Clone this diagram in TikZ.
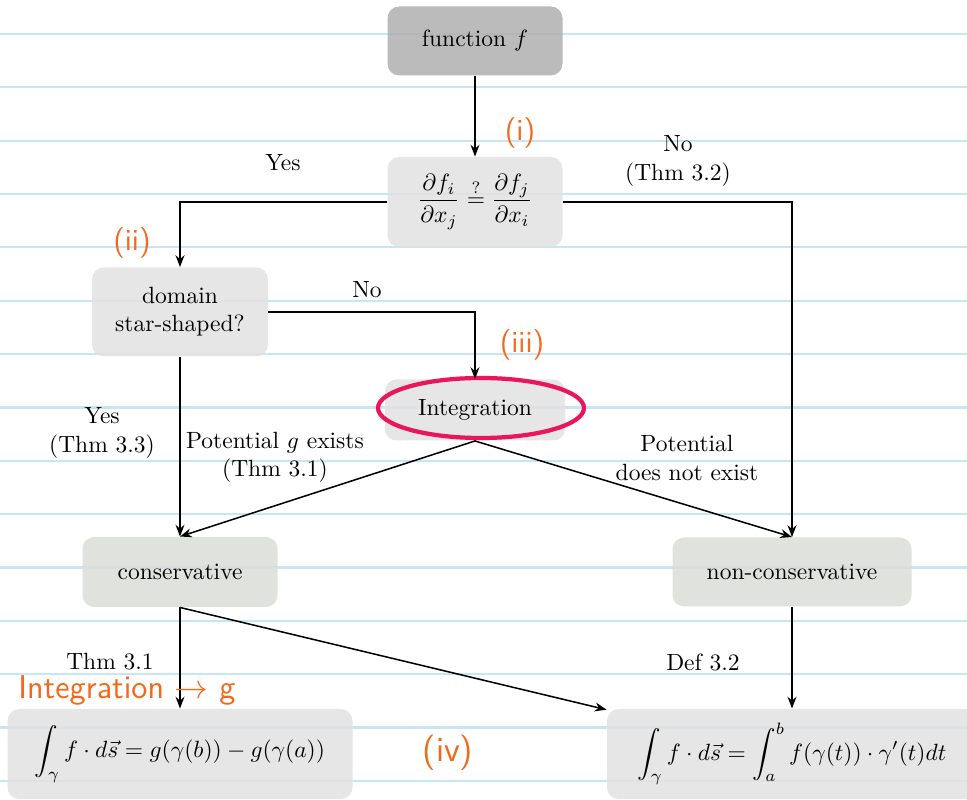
\documentclass[tikz,border=0pt]{standalone}
\usepackage{amsmath}
\usetikzlibrary{arrows.meta}
\definecolor{lineblue}{RGB}{200,229,246}
\definecolor{hand}{RGB}{242,104,28}
\definecolor{ringred}{RGB}{234,22,92}
\definecolor{darkbox}{RGB}{176,176,176}
\definecolor{lightbox}{RGB}{226,226,226}
\definecolor{greenbox}{RGB}{219,221,217}
\tikzset{
  box/.style={rectangle, rounded corners=5pt, fill=lightbox, fill opacity=0.85, text opacity=1, align=center, inner sep=0pt},
  darkfill/.style={fill=darkbox},
  greenfill/.style={fill=greenbox},
  sz/.style 2 args={minimum width=#1*0.4255pt, minimum height=#2*0.4255pt},
  conn/.style={-{Stealth[length=5pt,width=3.8pt]}, line width=0.65pt},
  lbl/.style={align=center, inner sep=0pt},
  handtext/.style={text=hand, inner sep=0pt, font=\sffamily\fontsize{13}{15}\selectfont},
  bgline/.style={draw=lineblue, line width=0.9pt}
}
\begin{document}
\begin{tikzpicture}[x=0.4255pt, y=-0.4255pt]
\useasboundingbox (0,0) rectangle (967,800);
\fill[white] (0,0) rectangle (967,800);
\foreach \k in {0,...,14} {
  \draw[bgline] (0,{34+53.35*\k}) -- (967,{34+53.35*\k});
}
% nodes
\node[box, darkfill, sz={175}{69}] (f) at (475,41) {function $f$};
\node[box, sz={175}{90}] (q) at (475,202) {$\dfrac{\partial f_i}{\partial x_j} \stackrel{?}{=} \dfrac{\partial f_j}{\partial x_i}$};
\node[box, sz={176}{89}] (d) at (180,312) {domain\\star-shaped?};
\node[box, sz={180}{61}] (int) at (475,410) {Integration};
\node[box, greenfill, sz={195}{70}] (c) at (180,572) {conservative};
\node[box, greenfill, sz={239}{69}] (nc) at (792,572) {non-conservative};
\node[box, sz={345}{90}] (bl) at (180,754) {$\displaystyle\int_\gamma f\cdot d\vec{s} = g(\gamma(b)) - g(\gamma(a))$};
\node[box, sz={370}{90}] (br) at (792,754) {$\displaystyle\int_\gamma f\cdot d\vec{s} = \int_a^b f(\gamma(t))\cdot\gamma'(t)dt$};
% ring
\draw[ringred, line width=1.8pt] (481,408) ellipse [x radius=103, y radius=30];
% connectors
\draw[conn] (f) -- (q);
\draw[conn] (q.west) -| (d.north);
\draw[conn] (q.east) -| (nc.north);
\draw[conn] (d.east) -| (int.north);
\draw[conn] (d.south) -- (c.north);
\draw[conn] (int.south) -- (c.north);
\draw[conn] (int.south) -- (nc.north);
\draw[conn] (c.south) -- (bl.north);
\draw[conn] (c.south) -- (br);
\draw[conn] (nc.south) -- (br.north);
% labels
\node[lbl] (l1) at (283,163) {Yes};
\node[lbl] (l2) at (678,161) {No\\(Thm 3.2)};
\node[lbl] (l3) at (367,290) {No};
\node[lbl] (l4) at (102,433) {Yes\\(Thm 3.3)};
\node[lbl] (l5) at (275,457) {Potential $g$ exists\\(Thm 3.1)};
\node[lbl] (l6) at (687,458) {Potential\\does not exist};
\node[lbl] (l7) at (110,662) {Thm 3.1};
\node[lbl] (l8) at (703,662) {Def 3.2};
% handwritten annotations
\node[handtext] (h1) at (520,133) {(i)};
\node[handtext] (h2) at (132,243) {(ii)};
\node[handtext] (h3) at (522,345) {(iii)};
\node[handtext, font=\sffamily\fontsize{15}{17}\selectfont] (h4) at (448,753) {(iv)};
\node[handtext, anchor=west, font=\sffamily\fontsize{14}{16}\selectfont] (h5) at (18,690) {Integration $\to$ g};
\end{tikzpicture}
\end{document}
